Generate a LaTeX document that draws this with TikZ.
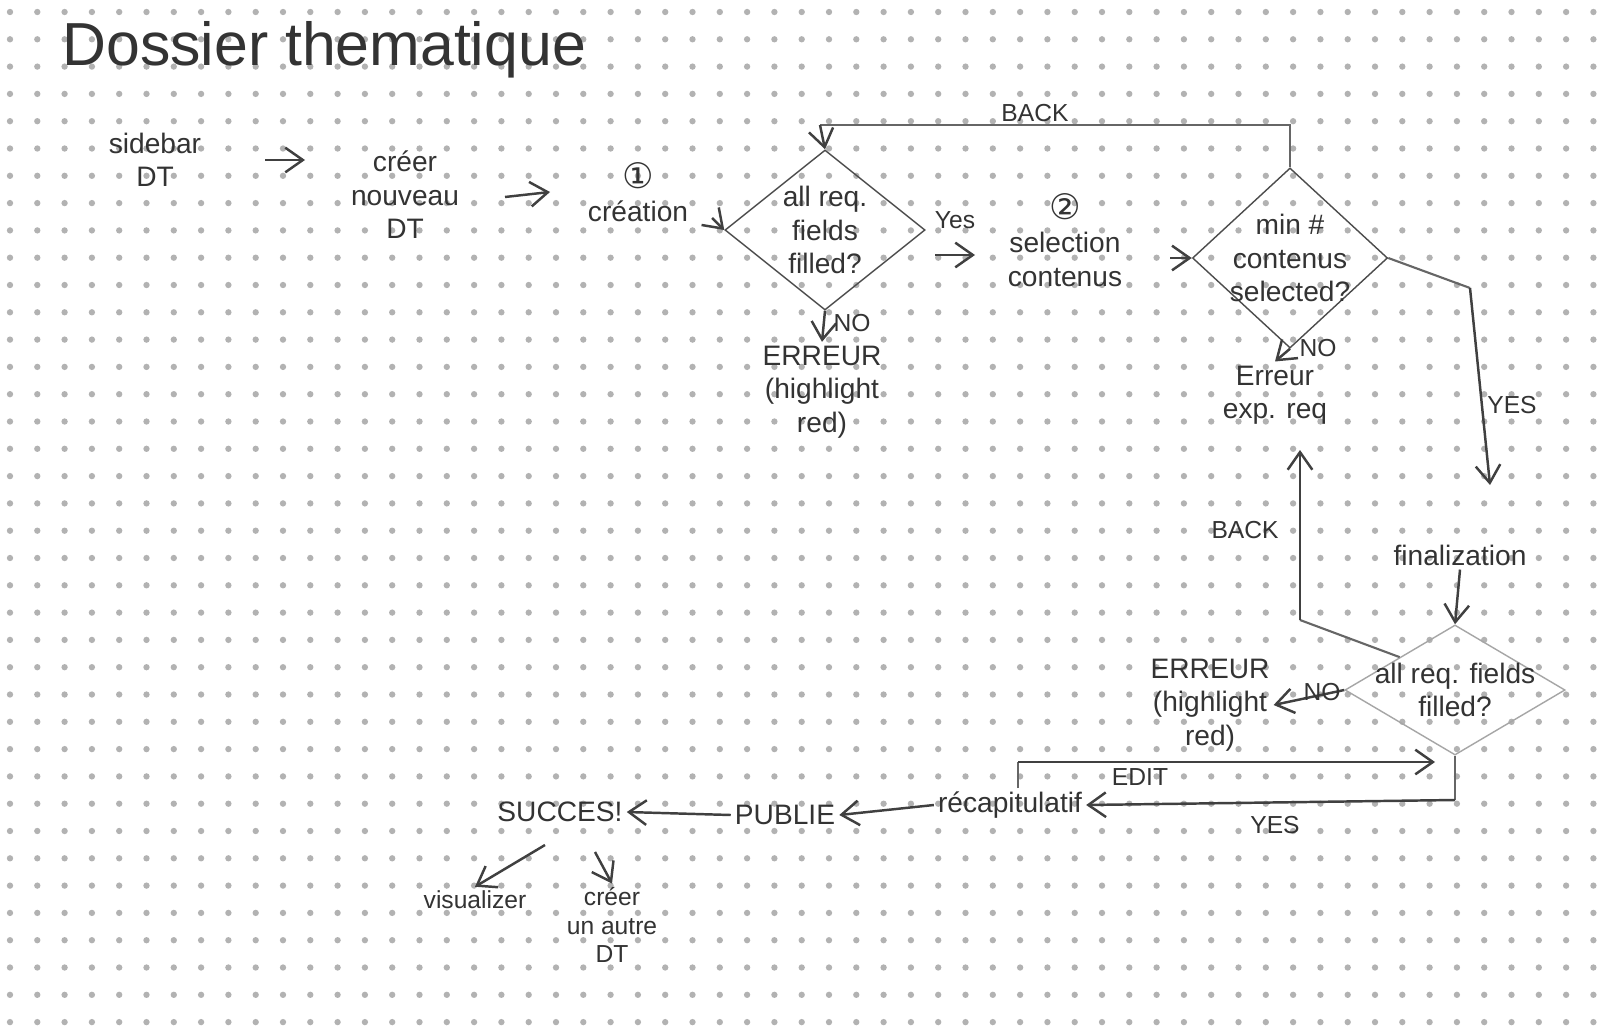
\documentclass[tikz,border=0pt]{standalone}
\usepackage{fontspec}
\setmainfont{Liberation Sans}
\newfontfamily\djv{DejaVu Sans}
\usetikzlibrary{shapes.geometric,arrows.meta}
\begin{document}
\begin{tikzpicture}[x=0.01cm,y=-0.01cm,
  txt/.style={align=center,font=\footnotesize,text=black!80,inner sep=1pt},
  dia/.style={draw=black!70,diamond,inner sep=0pt},
  arr/.style={draw=black!75,-{Straight Barb[length=5pt,width=7pt]},line width=0.7pt},
  ln/.style={draw=black!60,line width=0.6pt},
  lbl/.style={font=\scriptsize,text=black!80}]
\fill[white] (0,0) rectangle (1600,1027);
\useasboundingbox (0,0) rectangle (1600,1027);
\foreach \i in {0,...,58}{\foreach \j in {0,...,37}{\fill[black!30] (10+\i*27.3,12+\j*27.3) circle (0.9pt);}}
\node[font=\LARGE,text=black!80,anchor=west] (title) at (50,50) {Dossier thematique};
\node[txt] (side) at (155,160) {sidebar\\DT};
\node[txt] (creer) at (405,195) {créer\\nouveau\\DT};
\node[txt] (crea) at (638,192) {{\djv\normalsize ①}\\création};
\node[dia,minimum width=2.0cm,minimum height=1.6cm] (d1) at (825,230) {};
\node[txt] at (d1) {all req.\\fields\\filled?};
\node[txt] (sel) at (1065,240) {{\djv\normalsize ②}\\selection\\contenus};
\node[dia,minimum width=1.95cm,minimum height=1.8cm] (d2) at (1290,258) {};
\node[txt] at (d2) {min \#\\contenus\\selected?};
\node[txt] (err1) at (822,392) {ERREUR\\(highlight\\red)};
\node[txt] (err2) at (1275,395) {Erreur\\exp. req};
\node[txt] (fin) at (1460,555) {finalization};
\node[draw=black!35,diamond,inner sep=0pt,minimum width=2.2cm,minimum height=1.3cm] (d3) at (1455,690) {};
\node[txt] at (d3) {all req. fields\\filled?};
\node[txt] (err3) at (1210,705) {ERREUR\\(highlight\\red)};
\node[txt] (recap) at (1010,805) {récapitulatif};
\node[txt] (pub) at (785,815) {PUBLIE};
\node[txt] (succ) at (560,812) {SUCCES!};
\node[txt,font=\scriptsize] (vis) at (475,900) {visualizer};
\node[txt,font=\scriptsize] (autre) at (612,925) {créer\\un autre\\DT};
\coordinate (a0) at (265,160); \coordinate (a1) at (305,160);
\draw[arr] (a0) -- (a1);
\coordinate (b0) at (505,197); \draw[arr] (b0) -- (550,192);
\coordinate (b1) at (712,218); \draw[arr] (b1) -- (d1.west);
\coordinate (y0) at (935,255); \draw[arr] (y0) -- (975,255);
\node[lbl] at (955,220) {Yes};
\coordinate (s0) at (1170,258); \draw[arr] (s0) -- (d2.west);
\coordinate (k1) at (820,125);
\draw[ln] (d2.north) |- (k1);
\draw[arr] (k1) -- (d1.north);
\node[lbl] at (1035,113) {BACK};
\draw[arr] (d1.south) -- (err1.north);
\node[lbl] at (852,323) {NO};
\draw[arr] (d2.south) -- (err2.north);
\node[lbl] at (1318,348) {NO};
\coordinate (c1) at (1470,288);
\draw[ln] (d2.east) -- (c1);
\draw[arr] (c1) -- (1490,485);
\node[lbl] at (1512,405) {YES};
\draw[arr] (fin.south) -- (d3.north);
\coordinate (c3) at (1300,620);
\draw[ln] (d3.north west) -- (c3);
\draw[arr] (c3) -- (1300,450);
\node[lbl] at (1245,530) {BACK};
\draw[arr] (d3.west) -- (err3.east);
\node[lbl] at (1322,692) {NO};
\coordinate (e0) at (1018,788);
\coordinate (e1) at (1018,762);
\draw[ln] (e0) -- (e1);
\draw[arr] (e1) -- (1435,762);
\node[lbl] at (1140,777) {EDIT};
\coordinate (f1) at (1455,800);
\draw[ln] (d3.south) -- (f1);
\draw[arr] (f1) -- (recap.east);
\node[lbl] at (1275,825) {YES};
\draw[arr] (recap.west) -- (pub.east);
\draw[arr] (pub.west) -- (succ.east);
\coordinate (g0) at (545,845); \draw[arr] (g0) -- (vis.north);
\coordinate (g1) at (595,852); \draw[arr] (g1) -- (autre.north);
\end{tikzpicture}
\end{document}
